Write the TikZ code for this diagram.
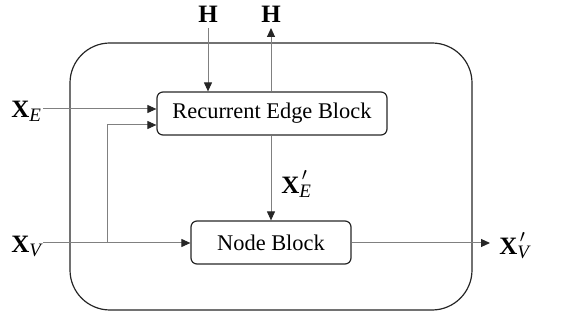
\documentclass[tikz,border=0pt]{standalone}
\usepackage{fontspec}
\setmainfont{Liberation Serif}
\usetikzlibrary{arrows.meta}
\newcommand\sublab[1]{\raisebox{-0.35ex}{\fontsize{9.5}{10}\selectfont\textit{#1}}}
\newcommand\subprime[1]{\rlap{\raisebox{1.05ex}{\kern0.1em\fontsize{9.5}{10}\selectfont$\prime$}}\raisebox{-0.35ex}{\fontsize{9.5}{10}\selectfont\textit{#1}}}
\begin{document}
\begin{tikzpicture}[x=0.5pt,y=-0.5pt,
  font=\fontsize{11.2}{13}\selectfont,
  blockbox/.style={draw=black!85,line width=0.6pt,rounded corners=3pt,inner sep=0pt},
  conn/.style={draw=black!50,line width=0.5pt},
  arr/.style={conn,-{Triangle[length=4.5pt,width=4pt,fill=black!85,color=black!85]}},
  lbl/.style={inner sep=0pt,font=\fontsize{12.5}{14}\selectfont}]
\useasboundingbox (0,0) rectangle (562,320);
\draw[draw=black!85,line width=0.6pt,rounded corners=20pt] (70,43) rectangle (472,310);
\node[blockbox,minimum width=115pt,minimum height=21.5pt] (edge) at (272,113.5) {Recurrent Edge Block};
\node[blockbox,minimum width=80pt,minimum height=21.5pt] (nodeb) at (271,242.5) {Node Block};
\node[lbl] (H1) at (208,14) {\textbf{H}};
\node[lbl] (H2) at (271,14) {\textbf{H}};
\node[lbl,anchor=west] (XE) at (11,111) {\textbf{X}\sublab{E}};
\node[lbl,anchor=west] (XV) at (11,246) {\textbf{X}\sublab{V}};
\node[lbl,anchor=west] (XEp) at (281,184) {\textbf{X}\subprime{E}};
\node[lbl,anchor=west] (XVp) at (499,246) {\textbf{X}\subprime{V}};
\coordinate (h1s) at (208,28);
\coordinate (h2e) at (271,28);
\coordinate (xes) at (43,109);
\coordinate (xvs) at (43,243);
\coordinate (split) at (107,243);
\coordinate (xve) at (490,243);
\draw[arr] (h1s) -- (h1s |- edge.north);
\draw[arr] (edge.north -| h2e) -- (h2e);
\draw[arr] (xes) -- (edge.west |- xes);
\draw[arr] (split) -- (107,125) -- (edge.west |- 0,125);
\draw[arr] (xvs) -- (nodeb.west |- xvs);
\draw[arr] (edge.south -| nodeb.north) -- (nodeb.north);
\draw[arr] (nodeb.east |- xve) -- (xve);
\end{tikzpicture}
\end{document}
